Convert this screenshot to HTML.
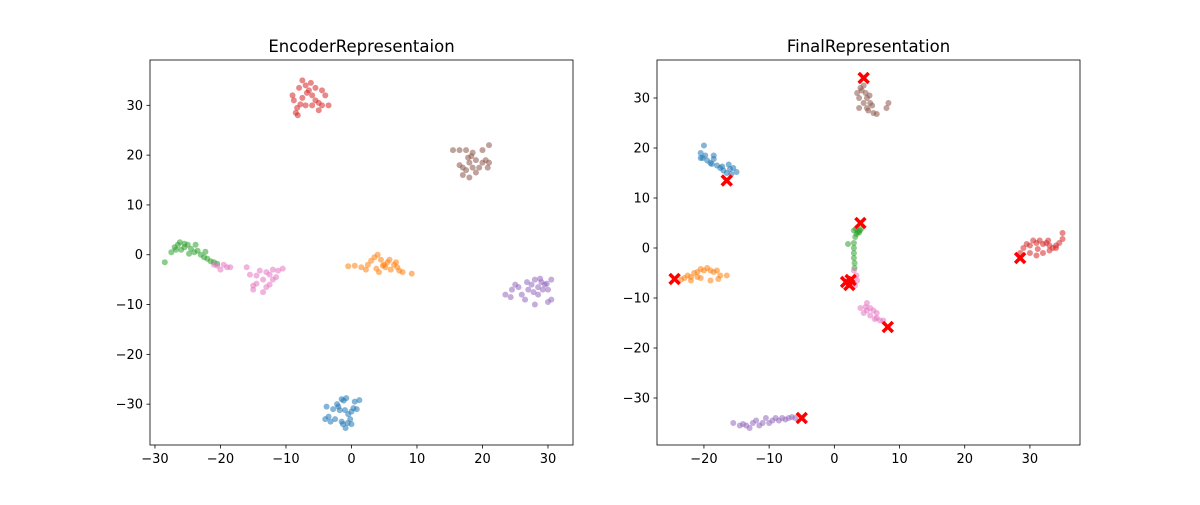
<!DOCTYPE html>
<html><head><meta charset="utf-8"><style>
body{margin:0;background:#fff;font-family:"Liberation Sans","DejaVu Sans",sans-serif}
svg text{font-family:"DejaVu Sans","Liberation Sans",sans-serif;font-size:13px;fill:#000}
</style></head><body>
<svg id="fig" width="1200" height="500" xmlns="http://www.w3.org/2000/svg">
<rect width="1200" height="500" fill="#fff"/>
</svg>
<script>
const colors=['#1f77b4','#ff7f0e','#2ca02c','#d62728','#9467bd','#8c564b','#e377c2'];
const clusterNames=['blue','orange','green','red','purple','brown','pink'];
const leftXTicks=[-30,-20,-10,0,10,20,30];
const leftYTicks=[-30,-20,-10,0,10,20,30];
const rightXTicks=[-20,-10,0,10,20,30];
const rightYTicks=[-30,-20,-10,0,10,20,30];
// left panel points, per cluster [x,y,...]
const leftBlue=[-3.5,-32.5,-2.8,-31,-2,-30.5,-1.5,-29,-1.2,-29.3,-0.8,-28.8,0.5,-29.5,1.2,-29.2,-4,-33,-3.2,-33.5,-2.5,-33,-1.8,-31.2,-1,-31.2,-0.5,-32,0,-31.5,0.3,-30.8,-0.2,-33,-0.6,-33.8,0.8,-31,-1.3,-34,-0.9,-34.8,-3.8,-30.5,-2.2,-30,-1.5,-33.5,0,-34];
const leftOrange=[-0.5,-2.3,0.5,-2.2,1.5,-2.5,2.5,-2,3,-1.2,3.5,-0.5,4,0,4.5,-1,5,-2,5.5,-1.5,5.2,-2.5,6,-3,6.5,-2,7,-2.5,7.3,-3.2,7.8,-3.5,9.2,-3.8,4.2,-3.5,5.8,-1,3.8,-2.8,2.2,-3,6.8,-1.5,4.8,-2.2];
const leftGreen=[-28.5,-1.5,-27.5,0.5,-27,1.5,-26.5,2,-26,1,-25.5,1.5,-25,2,-24.5,1.2,-24,0.5,-23.5,0.8,-23,0,-22.5,-0.5,-22,-0.8,-21.5,-1.3,-21,-1.5,-20.5,-1.8,-26.2,2.5,-25.5,2.2,-26.8,1,-24.8,0.2,-23.8,2,-22.3,0.6];
const leftRed=[-8.5,28.5,-8.3,29.5,-8.8,31,-9,32,-8,33.5,-7.5,35,-7,34,-6.5,33,-6,32,-5.5,31,-5,30.5,-4.5,30,-3.5,30,-4,32,-4.5,33,-5.5,33.5,-6,30,-7,30,-7.5,31.5,-6.8,32.5,-5,29,-7.8,30.2,-6.2,34.5,-8.2,28];
const leftBrown=[15.5,21,16.5,21,17.5,21,17.8,19.5,18,18.5,18.5,17.5,17.5,17,17,16,18,15.5,19,16.5,19.5,17.5,20,18.5,20.5,19,21,18.5,21,22,20,21,18.5,20.5,16.5,18,17,17.5,19,19,18.3,19.8,20.8,17.5];
const leftPurple=[23.5,-8,24.5,-7,25,-6,25.5,-6.5,26,-8,26.5,-9,27,-7,27.5,-6,28,-5,28.5,-6.5,29,-5.5,29.5,-6,30,-7,30.5,-5,30.5,-9,30,-9.5,28,-10,28.5,-8,29.2,-7,27.8,-7.5,26.8,-5.5,29.8,-5.8,24.3,-8.5,28.8,-4.8];
const leftPink=[-20.5,-2.2,-19.5,-2,-19,-2.5,-18.5,-2.5,-20,-3,-15.5,-4,-14.5,-4.2,-13.5,-5,-13,-3.5,-12.5,-4,-12,-3,-11.5,-4.5,-11.2,-3.2,-10.5,-2.8,-12.5,-6,-13,-6.5,-14.5,-5.8,-15,-7,-15,-6.2,-13.5,-7.5,-12,-5,-14,-3.2,-16,-2.5,-21,-2];
// right panel points
const rightBlue=[-20.5,19,-20,20.5,-20.2,18,-19.5,17.5,-19,17,-18.5,17.8,-18,16.5,-17.5,16,-17,15.5,-16.5,15,-16,15.8,-15.5,16,-15,15.2,-18.5,18.5,-20.5,18,-19.8,18.5,-17.2,16.3,-18.8,16.8,-16.2,16.7,-15.8,14.8];
const rightOrange=[-23.5,-6.3,-23,-6,-22.5,-5.5,-22,-5.8,-21.5,-5,-21,-4.8,-20.5,-4.2,-20,-4.5,-19.5,-4,-19,-4.5,-18.5,-4.8,-18,-4.5,-17.5,-5.5,-16.5,-5.5,-19,-6.5,-20.5,-6,-22,-6.5,-21,-5.8,-17.8,-6.2];
const rightGreen=[3,3.5,3.3,3.8,3.6,3.2,3.9,3.5,4.1,3.8,3.4,2.8,3.8,3.1,3.2,2.2,3,1,3,0,3,-1,3,-2,3.1,-3,3.1,-4,2.1,0.8];
const rightRed=[28.5,-1,29,0,30,0.5,30.5,1.5,31,1,31.5,1.5,32,0.8,32.5,1,33,0.5,33.5,0,34,0.5,34.5,1,35,1.8,35,3,34,0,33,-0.5,32,-1,31,-1.5,30,-1,29.5,0.8,31.2,-0.2,32.8,1.5];
const rightPurple=[-15.5,-35,-14.5,-35.5,-13.5,-35.5,-12.5,-35,-12,-34.5,-11.5,-35.5,-10.5,-34,-10,-35,-9.5,-34.5,-9,-34,-8.5,-34.5,-8,-34,-7.5,-34.3,-7,-34,-6.5,-33.8,-6,-34,-13,-36,-11,-35,-14,-35.2];
const rightBrown=[3.5,31,3.8,30,4,32,4.5,32.5,4.8,31,5,30,4.5,29,5,28,5.2,27.5,5.5,29,6,27,3.8,28,8,28,8.3,29,5.8,28.5,4.2,31.5,5.4,30.5,6.5,26.8];
const rightPink=[3,-4.5,3.4,-5.5,3.5,-6.5,3.2,-7.5,5,-11,5.5,-12,4,-12,4.5,-13,5.5,-13.5,6,-12.5,6.5,-13,6.5,-14,7,-14.5,7.5,-14.5,5,-12.5,6.2,-14.2,4.8,-11.8];
const centroidsX=[-16.5,-24.5,4,28.5,-5,4.5,8.2,1.8,2.3,2.5];
const centroidsY=[13.5,-6.2,5,-2,-34,34,-15.8,-6.8,-7.4,-6.4];

const leftSets=[leftBlue,leftOrange,leftGreen,leftRed,leftPurple,leftBrown,leftPink];
const rightSets=[rightBlue,rightOrange,rightGreen,rightRed,rightPurple,rightBrown,rightPink];
const NS='http://www.w3.org/2000/svg';
const svg=document.getElementById('fig');
function mk(tag,attrs,parent){const e=document.createElementNS(NS,tag);for(const k in attrs)e.setAttribute(k,attrs[k]);(parent||svg).appendChild(e);return e;}

function panel(p){
  const g=mk('g',{});
  
  
  const sx=v=>p.x0+(v-p.xmin)*(p.x1-p.x0)/(p.xmax-p.xmin);
  const sy=v=>p.y1-(v-p.ymin)*(p.y1-p.y0)/(p.ymax-p.ymin);
  p.sets.forEach((arr,ci)=>{
    for(let i=0;i<arr.length;i+=2){
      const c=mk('circle',{cx:sx(arr[i]),cy:sy(arr[i+1]),r:3,fill:colors[ci],'fill-opacity':0.55},g);
      
      
    }
  });
  if(p.cx){
    for(let i=0;i<p.cx.length;i++){
      const x=sx(p.cx[i]),y=sy(p.cy[i]),d=5;
      const m=mk('path',{d:`M${x-d},${y-d}L${x+d},${y+d}M${x-d},${y+d}L${x+d},${y-d}`,stroke:'#ff0000','stroke-width':3.5,'stroke-linecap':'butt'},g);
      
      
    }
  }
  const fr=mk('rect',{x:p.x0,y:p.y0,width:p.x1-p.x0,height:p.y1-p.y0,fill:'none',stroke:'#000','stroke-width':0.8},g);
  
  
  p.xt.forEach(v=>{
    const x=sx(v);
    mk('line',{x1:x,x2:x,y1:p.y1,y2:p.y1+3.5,stroke:'#000','stroke-width':0.8},g);
    const t=mk('text',{x:x,y:p.y1+18,'text-anchor':'middle'},g);t.textContent=(v<0?'\u2212'+(-v):v);
    
    
  });
  p.yt.forEach(v=>{
    const y=sy(v);
    mk('line',{x1:p.x0-3.5,x2:p.x0,y1:y,y2:y,stroke:'#000','stroke-width':0.8},g);
    const t=mk('text',{x:p.x0-7,y:y+4.5,'text-anchor':'end'},g);t.textContent=(v<0?'\u2212'+(-v):v);
    
    
  });
  const ti=mk('text',{x:(p.x0+p.x1)/2,y:p.y0-8,'text-anchor':'middle',style:'font-size:16.5px'},g);
  ti.textContent=p.title;
  
  
}
panel({name:'encoder-panel',title:'EncoderRepresentaion',x0:150,x1:573,y0:60,y1:445,
  xmin:-30.76,xmax:33.82,ymin:-38.2,ymax:39.1,sets:leftSets,xt:leftXTicks,yt:leftYTicks});
panel({name:'final-panel',title:'FinalRepresentation',x0:657,x1:1080,y0:60,y1:445,
  xmin:-27.2,xmax:37.68,ymin:-39.4,ymax:37.6,sets:rightSets,xt:rightXTicks,yt:rightYTicks,cx:centroidsX,cy:centroidsY});
</script>
</body></html>
